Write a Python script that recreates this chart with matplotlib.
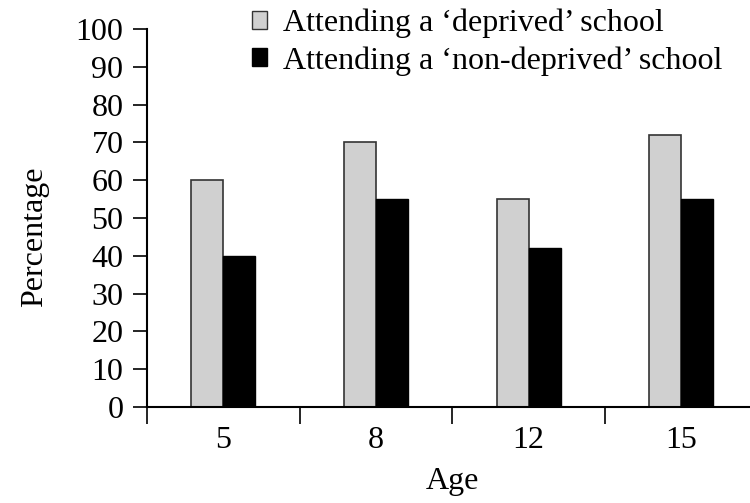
import numpy as np
import matplotlib.pyplot as plt
from matplotlib.patches import Patch

ages = ["5", "8", "12", "15"]
deprived = [60, 70, 55, 72]
non_deprived = [40, 55, 42, 55]
labels = ["Attending a \u2018deprived\u2019 school", "Attending a \u2018non-deprived\u2019 school"]

plt.rcParams['font.family'] = ['Liberation Serif', 'DejaVu Serif']
plt.rcParams['font.size'] = 23

fig = plt.figure(figsize=(7.5, 5.03), dpi=100)
ax = fig.add_axes([147 / 750, 1 - 407 / 503, 1 - 147 / 750 + 0.01, 378 / 503])

x = np.arange(len(ages))
w = 0.21
ax.bar(x - w / 2, deprived, w, color="#d0d0d0", edgecolor="#333333", linewidth=1.2)
ax.bar(x + w / 2, non_deprived, w, color="black", edgecolor="black", linewidth=1.0)

ax.set_xlim(-0.5, 3.5)
ax.set_ylim(0, 100)
ax.set_yticks(range(0, 101, 10))
ax.set_xticks(x)
ax.set_xticklabels(ages)
ax.set_xticks(np.arange(-0.5, 3.6, 1), minor=True)
ax.tick_params(axis="x", which="major", length=0, pad=14)
ax.tick_params(axis="x", which="minor", length=12, width=1.2, direction="out")
ax.tick_params(axis="y", length=10, width=1.2, pad=7)

for s in ["top", "right"]:
    ax.spines[s].set_visible(False)
ax.spines["left"].set_linewidth(1.5)
ax.spines["bottom"].set_linewidth(1.5)

ax.set_xlabel("Age", labelpad=8)
ax.set_ylabel("Percentage")
ax.yaxis.set_label_coords(-0.16, 0.45)

handles = [Patch(facecolor="#d0d0d0", edgecolor="#333333"),
           Patch(facecolor="black", edgecolor="black")]
fig.legend(handles, labels, loc="upper left", bbox_to_anchor=(0.297, 1.04),
           frameon=False, handlelength=0.5, handleheight=0.5,
           handletextpad=0.5, labelspacing=0.25, fontsize=23)

fig.savefig("out.png", dpi=100)
